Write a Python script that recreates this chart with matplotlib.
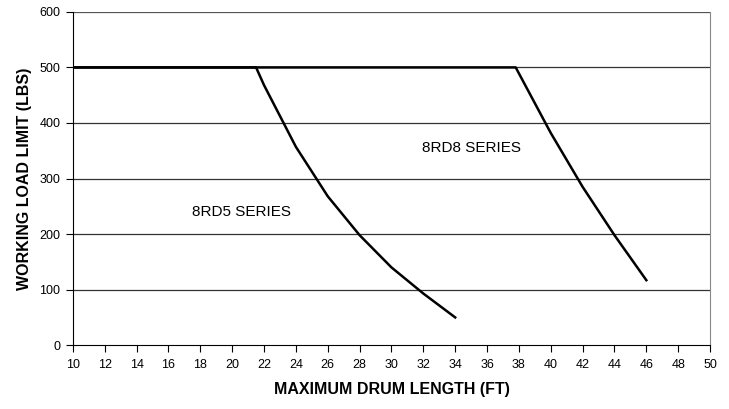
import matplotlib
matplotlib.use("Agg")
import matplotlib.pyplot as plt

plt.rcParams['font.family'] = ['Liberation Sans', 'DejaVu Sans']

# 8RD5 series (drum length ft, working load limit lbs)
rd5_x = [10, 21.5, 22, 24, 26, 28, 30, 32, 34]
rd5_y = [500, 500, 468, 357, 268, 198, 140, 93, 50]

# 8RD8 series
rd8_x = [10, 37.8, 40, 42, 44, 46]
rd8_y = [500, 500, 382, 285, 198, 117]

x_ticks = list(range(10, 51, 2))
y_ticks = list(range(0, 601, 100))

fig = plt.figure(figsize=(7.29, 4.09), dpi=100)
ax = fig.add_axes([0.1, 0.156, 0.874, 0.815])

# horizontal grid lines
for yv in y_ticks[1:]:
    ax.axhline(yv, color='#555555' if yv == 600 else '#333333', lw=0.9, zorder=1)

ax.plot(rd5_x, rd5_y, color='black', lw=1.8, zorder=3)
ax.plot(rd8_x, rd8_y, color='black', lw=1.8, zorder=3)

ax.text(20.6, 239, '8RD5 SERIES', fontsize=11, ha='center', va='center')
ax.text(35.0, 355, '8RD8 SERIES', fontsize=11, ha='center', va='center')

ax.set_xlim(10, 50)
ax.set_ylim(0, 600)
ax.set_xticks(x_ticks)
ax.set_yticks(y_ticks)
ax.tick_params(direction='out', length=5, width=0.8, labelsize=9, pad=4)
ax.tick_params(axis='x', pad=5)

ax.spines['top'].set_visible(False)
ax.spines['right'].set_color('#888888')
ax.spines['left'].set_color('black')
ax.spines['bottom'].set_color('black')

ax.set_xlabel('MAXIMUM DRUM LENGTH (FT)', fontsize=11.5, fontweight='bold', labelpad=8)
ax.set_ylabel('WORKING LOAD LIMIT (LBS)', fontsize=11.5, fontweight='bold', labelpad=5)

fig.savefig('out.png', dpi=100)
